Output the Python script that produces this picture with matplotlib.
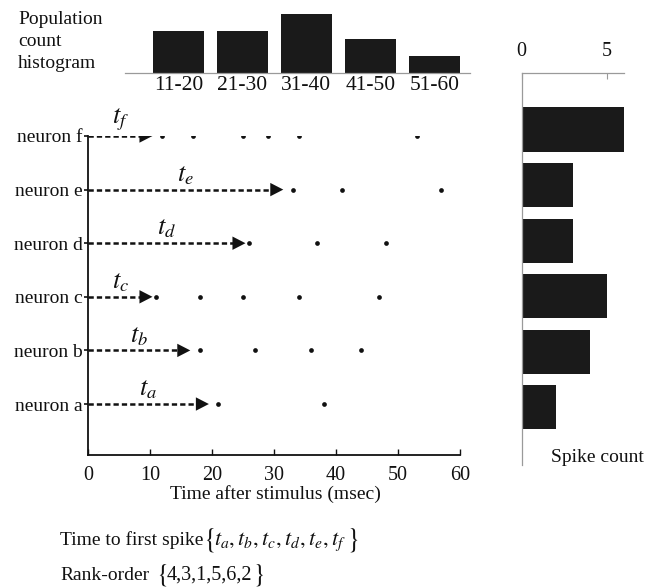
import matplotlib
matplotlib.use("Agg")
import matplotlib.pyplot as plt
from matplotlib.patches import Polygon

plt.rcParams["font.family"] = ["Liberation Serif", "DejaVu Serif"]
plt.rcParams["mathtext.fontset"] = "stix"
plt.rcParams["lines.scale_dashes"] = False

# ---- data ----
neurons = ["a", "b", "c", "d", "e", "f"]
spikes_a = [21, 38]
spikes_b = [18, 27, 36, 44]
spikes_c = [11, 18, 25, 34, 47]
spikes_d = [26, 37, 48]
spikes_e = [33, 41, 57]
spikes_f = [12, 17, 25, 29, 34, 53]
arrow_ends = [19.5, 16.5, 10.4, 25.4, 31.5, 10.4]   # latency arrows, a..f (msec)
spike_counts = [2, 4, 5, 3, 3, 6]                    # a..f
hist_bins = ["11-20", "21-30", "31-40", "41-50", "51-60"]
hist_counts = [5, 5, 7, 4, 2]
rank_order = [4, 3, 1, 5, 6, 2]

spike_trains = [spikes_a, spikes_b, spikes_c, spikes_d, spikes_e, spikes_f]

W, H = 656, 587
fig = plt.figure(figsize=(W / 100, H / 100), dpi=100)
ink = "#111111"
bar_col = "#1a1a1a"


def px_axes(x0, y0, x1, y1):
    """Axes from pixel box (left, top, right, bottom)."""
    return fig.add_axes([x0 / W, 1 - y1 / H, (x1 - x0) / W, (y1 - y0) / H])


# ---- raster ----
ax = px_axes(88, 136, 460, 455)
ax.set_xlim(0, 60)
ax.set_ylim(0.049, 6.0)
for s in ("top", "right"):
    ax.spines[s].set_visible(False)
for s in ("left", "bottom"):
    ax.spines[s].set_linewidth(1.3)
    ax.spines[s].set_color(ink)

for i, (train, end) in enumerate(zip(spike_trains, arrow_ends)):
    y = i + 1
    ax.plot(train, [y] * len(train), "o", ms=3.4, color=ink, mec="none")
    head_len = 2.1
    half_h = 0.125
    ax.plot([0, end - head_len + 0.2], [y, y], color=ink, lw=1.8,
            dashes=(3.8, 2.2), solid_capstyle="butt", dash_capstyle="butt")
    ax.add_patch(Polygon([[end, y], [end - head_len, y + half_h],
                          [end - head_len, y - half_h]],
                         closed=True, color=ink, lw=0))
    ax.annotate(f"$t_{neurons[i]}$", xy=(end / 2, y), xytext=(0, 2),
                textcoords="offset points", ha="center", va="bottom",
                fontsize=19, color=ink)

ax.set_yticks(range(1, 7))
ax.set_yticklabels([f"neuron {n}" for n in neurons], fontsize=14, color=ink)
ax.tick_params(axis="y", direction="out", length=3, width=1.2, pad=1, colors=ink)
ax.set_xticks(range(0, 61, 10))
ax.tick_params(axis="x", direction="in", length=4, width=1.0, pad=8,
               labelsize=14.5, colors=ink)
fig.text(275 / W, 1 - 494 / H, "Time after stimulus (msec)", ha="center",
         va="center", fontsize=14, color=ink)

# ---- population histogram ----
axh = px_axes(125, 13.5, 470, 73)
xs = list(range(len(hist_counts)))
axh.bar(xs, hist_counts, width=0.8, color=bar_col, edgecolor="none")
axh.set_xlim(-0.833, 4.558)
axh.set_ylim(0, 7)
for s in ("top", "right", "left"):
    axh.spines[s].set_visible(False)
axh.spines["bottom"].set_color("#9a9a9a")
axh.spines["bottom"].set_linewidth(0.9)
axh.set_yticks([])
axh.set_xticks(xs)
axh.set_xticklabels(hist_bins, fontsize=15.5, color=ink)
axh.tick_params(axis="x", length=0, pad=2)
fig.text(18 / W, 1 - 11 / H, "Population\ncount\nhistogram", ha="left",
         va="top", fontsize=14, color=ink, linespacing=1.38)

# ---- spike count bars ----
axb = px_axes(521.7, 73.3, 624, 465)
ys = list(range(len(spike_counts)))
axb.barh(ys, spike_counts, height=0.8, color=bar_col, edgecolor="none")
axb.set_xlim(0, 6)
axb.set_ylim(-1.041, 6.016)
for s in ("bottom", "right"):
    axb.spines[s].set_visible(False)
for s in ("top", "left"):
    axb.spines[s].set_color("#9a9a9a")
    axb.spines[s].set_linewidth(0.9)
axb.set_yticks([])
axb.xaxis.tick_top()
axb.set_xticks([0, 5])
axb.tick_params(axis="x", direction="in", length=4, width=0.8, color="#9a9a9a",
                labelcolor=ink, labelsize=14.5, pad=9)
fig.text(597 / W, 1 - 458 / H, "Spike count", ha="center", va="center",
         fontsize=14, color=ink)

# ---- latency / rank-order summary ----
renderer = fig.canvas.get_renderer()


def braced(x_open, y_base, body, body_size, brace_size, gap=0):
    """Draw '{ body }' at pixel position, closing brace placed after body."""
    fig.text(x_open / W, 1 - (y_base + 1) / H, r"$\{$", ha="left",
             va="baseline", fontsize=brace_size, color=ink)
    t = fig.text((x_open + 11) / W, 1 - y_base / H, body, ha="left",
                 va="baseline", fontsize=body_size, color=ink)
    x_end = t.get_window_extent(renderer).x1
    fig.text((x_end + gap) / W, 1 - (y_base + 1) / H, r"$\}$", ha="left",
             va="baseline", fontsize=brace_size, color=ink)


names = ",".join(f"t_{n}" for n in neurons)
fig.text(60 / W, 1 - 545 / H, "Time to first spike", ha="left",
         va="baseline", fontsize=14, color=ink)
braced(203, 545, f"${names}$", 16, 20, gap=0)

fig.text(60 / W, 1 - 580 / H, "Rank-order", ha="left", va="baseline",
         fontsize=14, color=ink)
braced(156, 580, ",".join(str(r) for r in rank_order), 14.5, 19, gap=0)

fig.savefig("out.png", dpi=100)
